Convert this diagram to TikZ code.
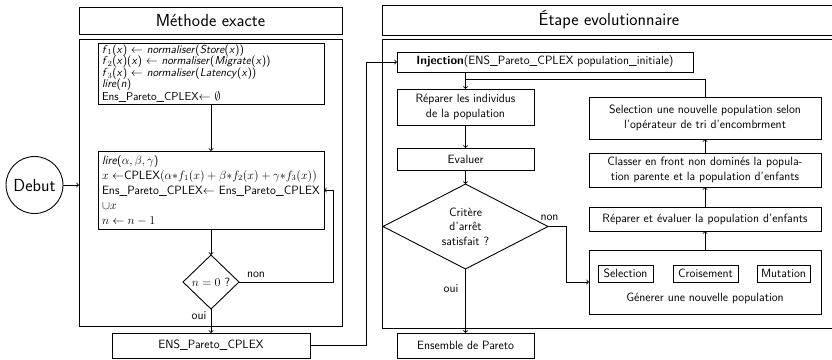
\documentclass[tikz,border=0pt]{standalone}
\usepackage{fontspec}
\usetikzlibrary{shapes.geometric,calc}
\begin{document}
\begin{tikzpicture}[x=1pt,y=-1pt,
  font=\sffamily\fontsize{12}{14.5}\selectfont,
  line width=0.9pt,
  box/.style={draw, rectangle, inner sep=0pt, outer sep=0pt, align=center},
  bigtext/.style={font=\sffamily\fontsize{17.5}{20}\selectfont},
  lbl/.style={inner sep=0pt, outer sep=0pt},
  dec/.style={draw, diamond, inner sep=0pt, outer sep=0pt, align=center}]
\clip (0,0) rectangle (832,359);
% ---------------- left part ----------------
\node[box, bigtext, minimum width=263, minimum height=27] (titleL) at (210.5,20.5) {Méthode exacte};
\node[box, minimum width=263, minimum height=287] (outerL) at (210.5,182.5) {};
\node[box, minimum width=226, minimum height=61, text width=218, align=left,
      font=\sffamily\fontsize{11.5}{11.6}\selectfont] (b1) at (211,73.5)
  {\textit{f}$_1$(\textit{x}) $\leftarrow$ \textit{normaliser}(\textit{Store}(\textit{x}))\\
   \textit{f}$_2$(\textit{x})(\textit{x}) $\leftarrow$ \textit{normaliser}(\textit{Migrate}(\textit{x}))\\
   \textit{f}$_3$(\textit{x}) $\leftarrow$ \textit{normaliser}(\textit{Latency}(\textit{x}))\\
   \textit{lire}(\textit{n})\\
   Ens\_Pareto\_CPLEX$\leftarrow$ $\emptyset$};
\node[box, minimum width=226, minimum height=78, text width=218, align=left,
      font=\sffamily\fontsize{12}{15}\selectfont] (b2) at (211,190)
  {\textit{lire}($\alpha,\beta,\gamma$)\\
   $x\leftarrow$CPLEX$(\alpha{*}f_1(x)+\beta{*}f_2(x)+\gamma{*}f_3(x))$\\
   Ens\_Pareto\_CPLEX$\leftarrow$ Ens\_Pareto\_CPLEX\\
   $\cup x$\\
   $n\leftarrow n-1$};
\node[dec, minimum width=56, minimum height=54] (d1) at (211,282) {$n=0$ ?};
\node[draw, circle, bigtext, minimum size=57, inner sep=0pt, outer sep=0pt] (debut) at (34.5,185) {Debut};
\node[box, minimum width=198, minimum height=25] (ensL) at (211,345.5) {ENS\_Pareto\_CPLEX};
\node[lbl] (nonL) at (256,275) {non};
\node[lbl] (ouiL) at (199,316) {oui};
\coordinate (rxL) at (333,0);
\coordinate (lx) at (366,0);
\draw[->] (debut.east) -- (debut.east -| outerL.west);
\draw[->] (b1.south) -- (b2.north);
\draw[->] (b2.south) -- (d1.north);
\draw[->] (d1.east) -- (d1.east -| rxL) |- (b2.east);
\draw[->] (d1.south) -- (ensL.north);
% ---------------- right part ----------------
\node[box, bigtext, minimum width=458, minimum height=30] (titleR) at (611,20) {\hspace*{-4pt}Étape evolutionnaire};
\node[box, minimum width=458, minimum height=289] (outerR) at (611,183.5) {};
\node[box, minimum width=296, minimum height=20] (inj) at (545,62)
  {\textbf{Injection}(ENS\_Pareto\_CPLEX population\_initiale)};
\node[box, minimum width=137, minimum height=36] (rep1) at (465.5,107) {Réparer les individus\\de la population};
\node[box, minimum width=137, minimum height=22] (eval) at (465.5,159) {Evaluer};
\node[dec, minimum width=165, minimum height=83] (d2) at (465.5,226.5) {Critère\\d'arrêt\\satisfait ?};
\node[box, minimum width=137, minimum height=25] (ensR) at (465.5,345.5) {Ensemble de Pareto};
\node[box, minimum width=232, minimum height=42] (sel) at (705,118)
  {Selection une nouvelle population selon\\l'opérateur de tri d'encombrment};
\node[box, minimum width=232, minimum height=34] (cls) at (705,170)
  {Classer en front non dominés la popula-\\tion parente et la population d'enfants};
\node[box, minimum width=232, minimum height=24] (repev) at (705,219)
  {Réparer et évaluer la population d'enfants};
\node[box, minimum width=232, minimum height=64] (gen) at (705,282) {};
\node[box, minimum width=55, minimum height=17] (opS) at (625.5,273.5) {Selection};
\node[box, minimum width=65, minimum height=17] (opC) at (705.5,273.5) {Croisement};
\node[box, minimum width=53, minimum height=17] (opM) at (783.5,273.5) {Mutation};
\node[lbl] (gtxt) at (705,298.5) {Génerer une nouvelle population};
\node[lbl] (nonR) at (549.5,218) {non};
\node[lbl] (ouiR) at (451,289) {oui};
\coordinate (jy) at (0,79);
\coordinate (rxR) at (566,0);
\draw[->] (ensL.east) -- (ensL.east -| lx) |- (inj.west);
\draw[->] (rep1.north |- inj.south) -- (rep1.north);
\draw (sel.north) -- (sel.north |- jy) -- (rep1.north |- jy);
\draw[->] (rep1.south) -- (eval.north);
\draw[->] (eval.south) -- (d2.north);
\draw[->] (d2.east) -- (d2.east -| rxR) |- (gen.west);
\draw[->] (d2.south) -- (ensR.north);
\draw[->] (gen.north) -- (repev.south);
\draw[->] (repev.north) -- (cls.south);
\draw[->] (cls.north) -- (sel.south);
\end{tikzpicture}
\end{document}
